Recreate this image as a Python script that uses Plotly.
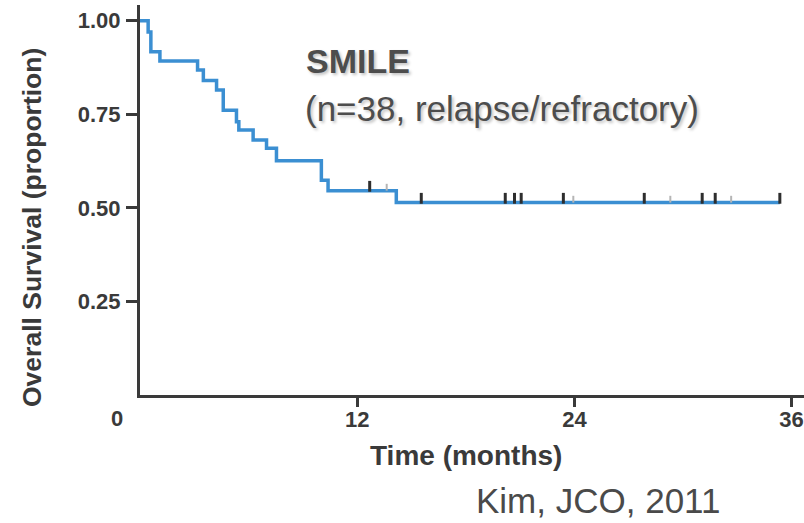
import plotly.graph_objects as go

# Kaplan-Meier step curve (months, survival proportion)
times = [0, 0.45, 0.6, 1.1, 3.18, 3.5, 4.23, 4.6, 5.33, 5.46, 6.25, 6.99, 7.54, 10.02, 10.39, 14.16, 35.35]
surv = [1.0, 0.97, 0.917, 0.892, 0.868, 0.840, 0.815, 0.761, 0.730, 0.708, 0.681, 0.659, 0.626, 0.574, 0.546, 0.514, 0.514]

# censor marks
cens_t_dark = [12.69, 15.54, 20.18, 20.69, 21.06, 23.39, 27.86, 31.06, 31.78, 35.35]
cens_s_dark = [0.546, 0.514, 0.514, 0.514, 0.514, 0.514, 0.514, 0.514, 0.514, 0.514]
cens_t_light = [13.63, 23.94, 29.3, 32.66]
cens_s_light = [0.546, 0.514, 0.514, 0.514]

y_ticks = [0.25, 0.50, 0.75, 1.00]
y_ticktext = ["0.25", "0.50", "0.75", "1.00"]
x_ticks = [12, 24, 36]

W, H = 804, 523
L, R, T, B = 140, 0, 5, 128
pw, ph = W - L - R, H - T - B

def px(x):
    return (x - L) / pw

def py(y):
    return (H - B - y) / ph

fig = go.Figure()
fig.add_trace(go.Scatter(x=times, y=surv, mode="lines", line=dict(color="#3b8fd2", width=3.5, shape="hv"),
                         hoverinfo="skip", showlegend=False))
mark_h = 0.026
fig.add_trace(go.Scatter(x=cens_t_dark, y=cens_s_dark, mode="markers", marker=dict(size=1, opacity=0),
                         error_y=dict(type="data", symmetric=False, array=[mark_h] * len(cens_t_dark),
                                      arrayminus=[0.003] * len(cens_t_dark), width=0, thickness=3, color="#2e2e2e"),
                         showlegend=False, hoverinfo="skip"))
fig.add_trace(go.Scatter(x=cens_t_light, y=cens_s_light, mode="markers", marker=dict(size=1, opacity=0),
                         error_y=dict(type="data", symmetric=False, array=[mark_h * 0.7] * len(cens_t_light),
                                      arrayminus=[0] * len(cens_t_light), width=0, thickness=2, color="#b5b5b5"),
                         showlegend=False, hoverinfo="skip"))

tick_font = dict(family="Liberation Sans, Arial, sans-serif", size=22, color="#3a3a3a", weight="bold")

fig.update_layout(
    width=W, height=H, margin=dict(l=L, r=R, t=T, b=B, autoexpand=False),
    plot_bgcolor="white", paper_bgcolor="white",
    xaxis=dict(range=[0, pw / 18.1], tickvals=x_ticks, ticks="outside", ticklen=9, tickwidth=3,
               tickcolor="#3a3a3a", showline=True, linecolor="#3a3a3a", linewidth=3, showgrid=False,
               zeroline=False, tickfont=tick_font, automargin=False, ticklabelstandoff=-6),
    yaxis=dict(range=[0, ph / 374.3], tickvals=y_ticks, ticktext=y_ticktext, ticks="outside", ticklen=11,
               tickwidth=3, tickcolor="#3a3a3a", showline=True, linecolor="#3a3a3a", linewidth=3,
               showgrid=False, zeroline=False, tickfont=tick_font, automargin=False, ticklabelstandoff=1),
)

ann = []
ann.append(dict(x=px(117), y=py(418), xref="paper", yref="paper", text="0", showarrow=False,
                font=tick_font, xanchor="center", yanchor="middle"))
ann.append(dict(x=px(32), y=py(228), xref="paper", yref="paper", text="Overall Survival (proportion)",
                textangle=-90, showarrow=False, xanchor="center", yanchor="middle",
                font=dict(family="Liberation Sans, Arial, sans-serif", size=26.5, color="#3a3a3a", weight="bold")))
ann.append(dict(x=px(466), y=py(456), xref="paper", yref="paper", text="Time (months)", showarrow=False,
                xanchor="center", yanchor="middle",
                font=dict(family="Liberation Sans, Arial, sans-serif", size=28, color="#3a3a3a", weight="bold")))
ann.append(dict(x=px(304), y=py(61), xref="paper", yref="paper", text="SMILE", showarrow=False,
                xanchor="left", yanchor="middle",
                font=dict(family="Liberation Sans, Arial, sans-serif", size=34, color="#4d4d4d", weight="bold",
                          shadow="2px 2px 3px #c4c4c4")))
ann.append(dict(x=px(303), y=py(108.5), xref="paper", yref="paper", text="(n=38, relapse/refractory)",
                showarrow=False, xanchor="left", yanchor="middle",
                font=dict(family="Liberation Sans, Arial, sans-serif", size=35, color="#4d4d4d",
                          shadow="2px 2px 3px #c4c4c4")))
ann.append(dict(x=px(474), y=py(501), xref="paper", yref="paper", text="Kim, JCO, 2011", showarrow=False,
                xanchor="left", yanchor="middle",
                font=dict(family="Liberation Sans, Arial, sans-serif", size=35, color="#4a4a4a")))
fig.update_layout(annotations=ann)

fig.write_html("out.html")
